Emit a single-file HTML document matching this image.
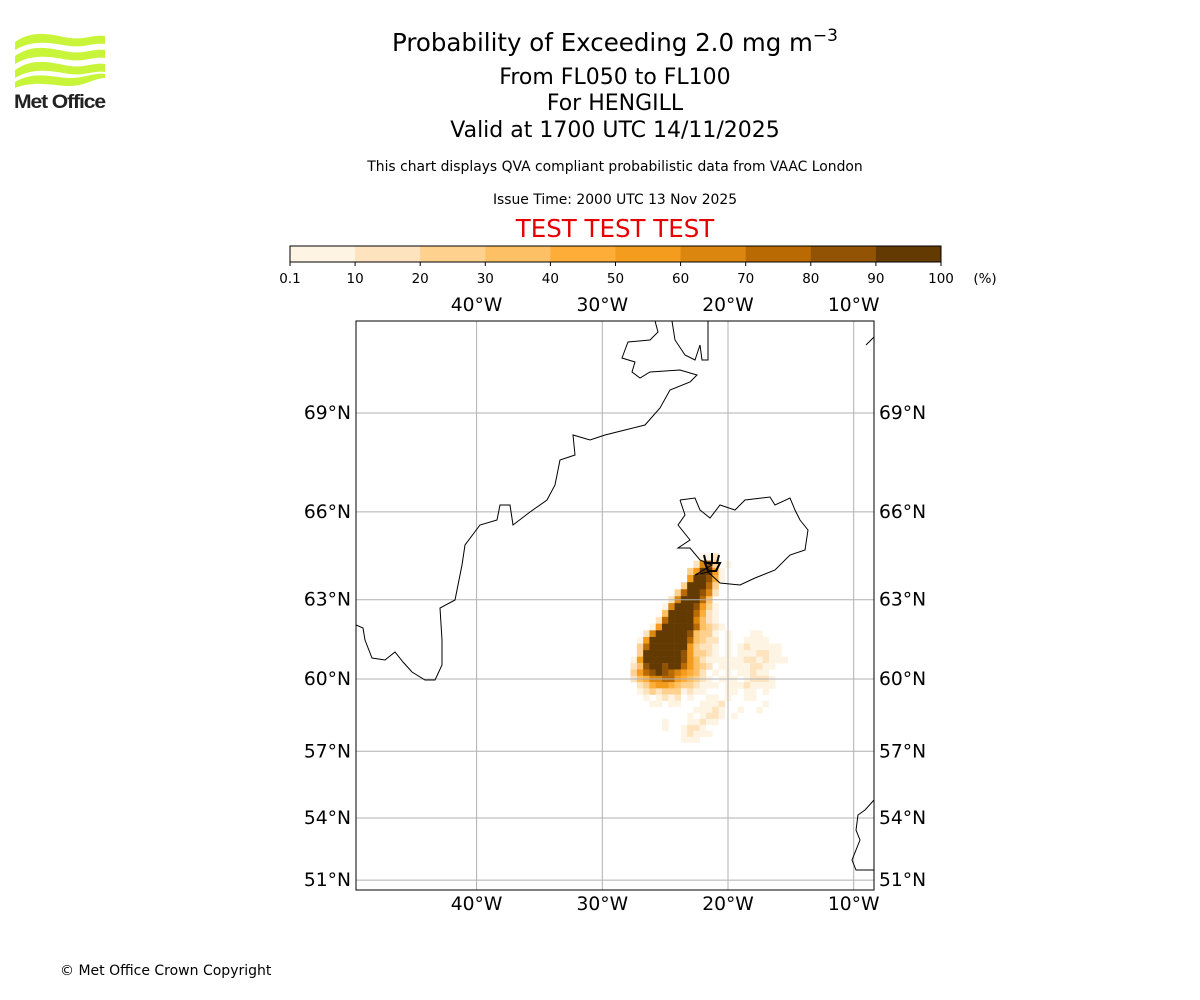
<!DOCTYPE html>
<html><head><meta charset="utf-8">
<style>
body{margin:0;background:#fff;font-family:"DejaVu Sans","Liberation Sans",sans-serif;}
#wrap{position:relative;width:1200px;height:1000px;overflow:hidden;}
svg text{font-family:"DejaVu Sans","Liberation Sans",sans-serif;}
</style></head>
<body>
<div id="wrap">
<svg id="chart" width="1200" height="1000" viewBox="0 0 1200 1000">
  <g>
    <path d="M15 42 C35 28 55 36 70 38 C85 40 95 34 105 36 L105 44 C95 42 85 48 70 46 C55 44 35 38 15 50 Z" fill="#c8f53a"/>
    <path d="M15 56 C35 42 55 50 70 52 C85 54 95 48 105 50 L105 58 C95 56 85 62 70 60 C55 58 35 52 15 64 Z" fill="#c8f53a"/>
    <path d="M15 70 C35 56 55 64 70 66 C85 68 95 62 105 64 L105 72 C95 70 85 76 70 74 C55 72 35 66 15 78 Z" fill="#c8f53a"/>
    <path d="M15 82 C35 70 55 78 70 78 C85 78 95 72 105 74 L105 78 C95 78 85 86 70 86 C55 86 35 80 15 88 Z" fill="#c8f53a"/>
    <text x="14" y="108" font-size="19" font-weight="bold" fill="#222" style="font-family:'Liberation Sans Narrow','Liberation Sans',sans-serif;letter-spacing:-1px" textLength="91" lengthAdjust="spacingAndGlyphs">Met Office</text>
  </g>
  <text x="615" y="51" font-size="24.5" text-anchor="middle">Probability of Exceeding 2.0 mg m<tspan dy="-10" font-size="17">−3</tspan></text>
  <text x="615" y="84" font-size="22" text-anchor="middle">From FL050 to FL100</text>
  <text x="615" y="110" font-size="22" text-anchor="middle">For HENGILL</text>
  <text x="615" y="137" font-size="22" text-anchor="middle">Valid at 1700 UTC 14/11/2025</text>
  <text x="615" y="171" font-size="13.9" text-anchor="middle">This chart displays QVA compliant probabilistic data from VAAC London</text>
  <text x="615" y="204" font-size="13.9" text-anchor="middle">Issue Time: 2000 UTC 13 Nov 2025</text>
  <text x="615" y="237" font-size="24.5" text-anchor="middle" fill="#e60000">TEST TEST TEST</text>
  <g id="cbar"></g>
  <g id="map"></g>
  <text x="60" y="975" font-size="14">© Met Office Crown Copyright</text>
</svg>
</div>
<script>
const binLabels = ["0.1","10","20","30","40","50","60","70","80","90","100"];
const binColors = ["#fef4e3","#fee3bf","#fed18f","#fec064","#fdad38","#f39c1e","#db860f","#ba6a02","#925404","#633a02"];
const lonTicks = [-40,-30,-20,-10];
const latTicks = [51,54,57,60,63,66,69];
const gridLon0 = -28, gridLonStep = 0.5, gridLat0 = 64.5, gridLatStep = 0.25;
const plumeRows = [
"............112...........",
"...........2793.1.........",
"..........36AA61..........",
"..........6AA951..........",
".........3AAA83...........",
"........38AA972...........",
".......27AAA84............",
"......17AAA9631...........",
"......4AAAA8521...........",
".....28AAAA7421...........",
"....16AAAAA84321..........",
"...27AAAAA94331.1...11....",
"..16AAAAAA84322.1..1111...",
"..38AAAAAA63221.1.1211111.",
"..3AAAAAA963321.1.1112211.",
".16AAAAAA96421111112212111",
".249AA9AA86432.111112211..",
".3689A9876542.1.1.11211...",
".2457788654321.111.12221..",
"..2356654332111.11121111..",
"..12323331211...11.11.1...",
"...1.1212.1..11.1..11.....",
"....11.11...1112......1...",
"...........11121..1..1....",
"..........1.1221.1........",
"......1...11211...........",
"......1..1221.............",
".........12111............",
".........111.............."
];
const NS="http://www.w3.org/2000/svg";
function mk(tag,attrs,parent){const e=document.createElementNS(NS,tag);for(const k in attrs)e.setAttribute(k,attrs[k]);parent.appendChild(e);return e;}
const cb=document.getElementById('cbar');
const cbX0=290,cbX1=941,cbY=246,cbH=16,segW=(cbX1-cbX0)/binColors.length;
binColors.forEach((c,i)=>{
  const r=mk('rect',{x:cbX0+i*segW,y:cbY,width:segW+0.5,height:cbH,fill:c},cb);
  
  
});
mk('rect',{x:cbX0,y:cbY,width:cbX1-cbX0,height:cbH,fill:'none',stroke:'#000','stroke-width':1},cb);
binLabels.forEach((l,i)=>{
  const x=cbX0+i*segW;
  mk('line',{x1:x,y1:cbY+cbH,x2:x,y2:cbY+cbH+4,stroke:'#000'},cb);
  const t=mk('text',{x:x,y:283,'font-size':13.5,'text-anchor':'middle'},cb);t.textContent=l;
  
  
});
const pu=mk('text',{x:985,y:283,'font-size':13.5,'text-anchor':'middle'},cb);pu.textContent='(%)';


const mX0=356,mX1=874,mY0=321,mY1=890;
const pxPerRad=721.5, yRef=413, mercRef=Math.log(Math.tan(Math.PI/4+69*Math.PI/360));
function xOf(lon){return 728+(lon+20)*12.57;}
function yOf(lat){return yRef-(Math.log(Math.tan(Math.PI/4+lat*Math.PI/360))-mercRef)*pxPerRad;}
const map=document.getElementById('map');
const clip=mk('clipPath',{id:'mclip'},mk('defs',{},map));
mk('rect',{x:mX0,y:mY0,width:mX1-mX0,height:mY1-mY0},clip);
const inner=mk('g',{'clip-path':'url(#mclip)'},map);
const hm=mk('g',{},inner);


plumeRows.forEach((row,r)=>{
  const latTop=gridLat0-r*gridLatStep+gridLatStep/2, latBot=latTop-gridLatStep;
  for(let c=0;c<row.length;c++){
    const ch=row[c]; if(ch==='.')continue;
    const v=ch==='A'?10:parseInt(ch,10);
    const lonL=gridLon0+c*gridLonStep-gridLonStep/2;
    const x=xOf(lonL), y=yOf(latTop);
    const cell=mk('rect',{x:x,y:y,width:xOf(lonL+gridLonStep)-x+0.3,height:yOf(latBot)-y+0.3,fill:binColors[v-1]},hm);
    
    
  }
});
lonTicks.forEach(l=>{mk('line',{x1:xOf(l),y1:mY0,x2:xOf(l),y2:mY1,stroke:'#b0b0b0','stroke-width':1},inner);});
latTicks.forEach(l=>{mk('line',{x1:mX0,y1:yOf(l),x2:mX1,y2:yOf(l),stroke:'#b0b0b0','stroke-width':1},inner);});
const coast=mk('g',{fill:'none',stroke:'#000','stroke-width':1},inner);


[
"M356 625 L363 628 L365 640 L372 658 L385 660 L395 652 L403 662 L412 672 L425 680 L435 680 L442 665 L442 640 L440 608 L455 600 L462 565 L465 545 L480 525 L497 520 L500 505 L510 505 L513 525 L530 512 L547 500 L555 485 L560 460 L575 455 L573 435 L590 440 L605 435 L625 430 L645 425 L660 408 L670 390 L690 382 L697 375 L680 370 L650 372 L640 378 L632 372 L635 362 L622 358 L628 342 L650 340 L658 332 L655 321",
"M672 321 L675 340 L685 355 L695 360 L700 345 L702 360 L708 360 L708 321",
"M866 345 L874 337",
"M680 500 L695 498 L700 510 L710 518 L720 505 L735 510 L745 500 L770 497 L775 505 L790 498 L795 510 L800 520 L808 530 L805 550 L790 555 L775 570 L755 578 L740 585 L720 583 L708 572 L695 575 L712 565 L700 560 L690 548 L678 548 L690 540 L678 525 L685 515 L680 500",
"M874 800 L865 810 L858 815 L856 830 L860 840 L852 860 L856 870 L874 870"
].forEach(d=>mk('path',{d:d},coast));
const vm=mk('path',{d:'M705 563 L720 563 L716 571 L708 571 Z M704 555 L706 563 M712 553 L712 563 M719 555 L717 563',fill:'none',stroke:'#000','stroke-width':2},inner);


mk('rect',{x:mX0,y:mY0,width:mX1-mX0,height:mY1-mY0,fill:'none',stroke:'#000','stroke-width':1},map);
lonTicks.forEach(l=>{
  [311,910].forEach(y=>{
    const t=mk('text',{x:xOf(l),y:y,'font-size':18.7,'text-anchor':'middle'},map);t.textContent=Math.abs(l)+'°W';
    
    
  });
});
latTicks.forEach(l=>{
  const y=yOf(l)+6;
  const a=mk('text',{x:351,y:y,'font-size':18.7,'text-anchor':'end'},map);a.textContent=l+'°N';
  
  
  const b=mk('text',{x:879,y:y,'font-size':18.7,'text-anchor':'start'},map);b.textContent=l+'°N';
  
  
});
</script>
</body></html>
